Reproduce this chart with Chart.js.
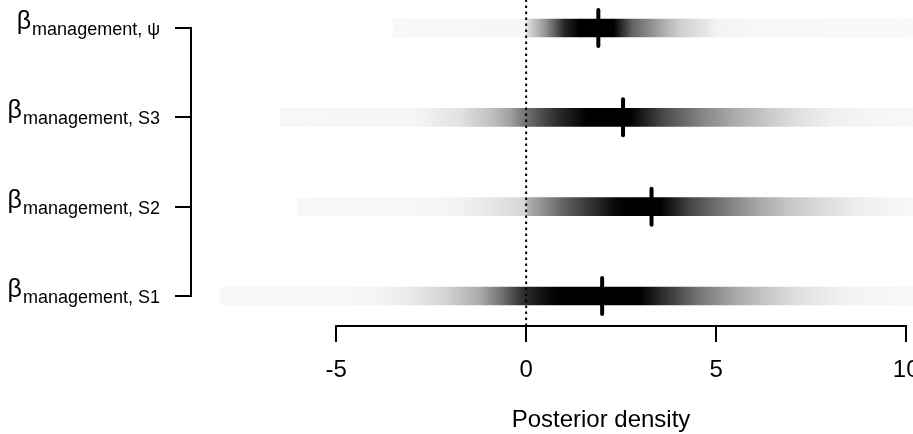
<!DOCTYPE html>
<html>
<head>
<meta charset="utf-8">
<script src="https://cdn.jsdelivr.net/npm/chart.js@4.4.1/dist/chart.umd.min.js"></script>
<style>
  html, body { margin: 0; padding: 0; overflow: hidden; background: #fff; }
  canvas { display: block; }
</style>
</head>
<body>
<canvas id="strips" width="1011" height="434"></canvas>
<script>
// Parameters, listed top to bottom
const paramNames = ['\u03C8', 'S3', 'S2', 'S1'];
const paramRows = [4, 3, 2, 1];
const medians = [1.9, 2.55, 3.3, 2.0];
const stripFrom = [-3.5, -6.47, -6.03, -8.05];
const stripTo = [12, 12, 12, 12];

// Density shading: posterior value and grey level (0 = black, 255 = white)
const shadeAt = [
    [-3.5, -0.03, 0.02, 0.5, 1.0, 1.4, 2.3, 2.8, 3.7, 4.1, 4.6, 5.0, 6.0, 10.2],
    [-6.47, -3.05, -2.6, -1.74, -0.87, -0.42, 0.03, 0.5, 0.89, 1.6, 2.74, 3.71, 4.58, 5.45, 6.34, 7.21, 8.08, 8.97, 10.18],
    [-6.03, -2.97, -1.92, -1.21, -0.34, -0.03, 0.05, 0.97, 1.87, 2.29, 2.66, 3.53, 4.32, 5.18, 6.08, 6.95, 7.82, 8.71, 9.58, 10.18],
    [-8.05, -4.82, -3.84, -2.97, -2.08, -1.21, -0.61, -0.34, -0.05, 0.18, 0.82, 3.0, 3.79, 4.58, 5.45, 6.34, 7.21, 8.26, 9.32, 10.18]
];
const shadeGrey = [
    [248, 246, 225, 150, 40, 0, 0, 100, 180, 210, 225, 243, 247, 249],
    [247, 246, 240, 225, 190, 160, 110, 70, 40, 0, 0, 80, 130, 170, 200, 225, 240, 245, 248],
    [248, 247, 244, 235, 220, 212, 175, 100, 40, 10, 0, 0, 70, 120, 165, 200, 220, 237, 245, 248],
    [248, 248, 243, 232, 210, 170, 110, 75, 45, 30, 0, 0, 60, 120, 165, 200, 225, 240, 246, 248]
];

const xTicks = [-5, 0, 5, 10];
const zeroLine = 0;

const fontFamily = "'Liberation Sans', Arial, sans-serif";

function stripFill(context) {
    const chart = context.chart;
    const xs = chart.scales.x;
    if (context.type !== 'data' || !xs || !chart.chartArea) {
        return '#888';
    }
    const at = shadeAt[context.dataIndex];
    const grey = shadeGrey[context.dataIndex];
    const x0 = xs.getPixelForValue(at[0]);
    const x1 = xs.getPixelForValue(at[at.length - 1]);
    const grad = chart.ctx.createLinearGradient(x0, 0, x1, 0);
    at.forEach((v, k) => {
        const f = (xs.getPixelForValue(v) - x0) / (x1 - x0);
        const c = grey[k];
        grad.addColorStop(Math.min(1, Math.max(0, f)), `rgb(${c},${c},${c})`);
    });
    return grad;
}

// R-style axis lines (only across the tick range) and the beta labels
const axisPlugin = {
    id: 'rAxes',
    beforeDatasetDraw(chart, args) {
        if (args.index === 2) chart.ctx.lineCap = 'round';
    },
    afterDatasetDraw(chart, args) {
        if (args.index === 2) chart.ctx.lineCap = 'butt';
    },
    afterDraw(chart) {
        const { ctx, chartArea, scales: { x, y } } = chart;
        ctx.save();
        ctx.strokeStyle = '#000';
        ctx.lineWidth = 2;
        ctx.lineCap = 'square';
        ctx.beginPath();
        ctx.moveTo(x.getPixelForValue(xTicks[0]), chartArea.bottom);
        ctx.lineTo(x.getPixelForValue(xTicks[xTicks.length - 1]), chartArea.bottom);
        ctx.moveTo(chartArea.left, y.getPixelForValue(Math.max(...paramRows)));
        ctx.lineTo(chartArea.left, y.getPixelForValue(Math.min(...paramRows)));
        ctx.stroke();

        ctx.fillStyle = '#000';
        ctx.textAlign = 'right';
        ctx.textBaseline = 'alphabetic';
        paramNames.forEach((name, i) => {
            const yPix = y.getPixelForValue(paramRows[i]);
            const sub = 'management, ' + name;
            ctx.font = `18px ${fontFamily}`;
            const subW = ctx.measureText(sub).width;
            ctx.fillText(sub, 160, yPix + 7);
            ctx.font = `25px ${fontFamily}`;
            ctx.fillText('\u03B2', 160 - subW - 1, yPix + 1);
        });
        ctx.restore();
    }
};

const yMin = 0.664;
const yMax = 4.314;

new Chart(document.getElementById('strips'), {
    type: 'scatter',
    data: {
        datasets: [
            {
                type: 'bar',
                indexAxis: 'y',
                data: paramRows.map((r, i) => ({ y: r, x: [stripFrom[i], stripTo[i]] })),
                backgroundColor: stripFill,
                borderWidth: 0,
                barThickness: 18,
                order: 3
            },
            {
                type: 'line',
                data: [{ x: zeroLine, y: yMin }, { x: zeroLine, y: yMax }],
                borderColor: '#000',
                borderWidth: 2,
                borderDash: [2.5, 3.5],
                pointRadius: 0,
                fill: false,
                order: 2
            },
            {
                type: 'scatter',
                data: medians.map((m, i) => ({ x: m, y: paramRows[i] })),
                pointStyle: 'line',
                rotation: 90,
                radius: 18,
                borderWidth: 4,
                borderColor: '#000',
                backgroundColor: '#000',
                order: 1
            }
        ]
    },
    options: {
        responsive: false,
        animation: false,
        plugins: {
            legend: { display: false },
            tooltip: { enabled: false }
        },
        layout: { padding: 0, autoPadding: false },
        scales: {
            x: {
                type: 'linear',
                min: -8.82,
                max: 12.76,
                offset: false,
                beginAtZero: false,
                afterBuildTicks: s => { s.ticks = xTicks.map(v => ({ value: v })); },
                afterFit: s => { s.height = 108; },
                border: { display: false },
                grid: { offset: false, drawOnChartArea: false, drawTicks: true, tickLength: 16, color: '#000', lineWidth: 2 },
                ticks: {
                    color: '#000',
                    font: { family: fontFamily, size: 24 },
                    padding: 14,
                    maxRotation: 0,
                    autoSkip: false,
                    callback: v => String(v)
                },
                title: {
                    display: true,
                    text: 'Posterior density',
                    color: '#000',
                    font: { family: fontFamily, size: 24, lineHeight: 1.1 },
                    padding: { top: 0, bottom: 0 }
                }
            },
            y: {
                type: 'linear',
                min: yMin,
                max: yMax,
                offset: false,
                beginAtZero: false,
                afterBuildTicks: s => { s.ticks = paramRows.map(v => ({ value: v })); },
                afterFit: s => { s.width = 191; },
                border: { display: false },
                grid: { offset: false, drawOnChartArea: false, drawTicks: true, tickLength: 16, color: '#000', lineWidth: 2 },
                ticks: { display: false }
            }
        }
    },
    plugins: [axisPlugin]
});
</script>
</body>
</html>
